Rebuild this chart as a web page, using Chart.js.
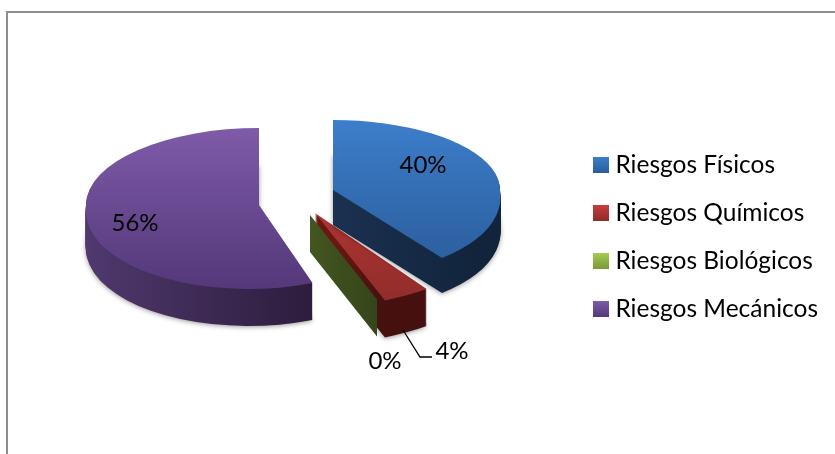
<!DOCTYPE html>
<html><head><meta charset="utf-8">
<style>html,body{margin:0;padding:0;background:#fff;overflow:hidden}canvas{display:block}</style>
<script src="https://cdn.jsdelivr.net/npm/chart.js@4"></script>
</head><body><canvas id="c" width="835" height="454"></canvas>
<script>
const categories = ['Riesgos Físicos','Riesgos Químicos','Riesgos Biológicos','Riesgos Mecánicos'];
const values = [40,4,0,56];
const topColors = ['#3d7ecb','#c93d39','#a4cc50','#7f5ba8'];
const bottomColors = ['#2a5d9c','#8f2c2a','#7a9a38','#54387a'];
const wallLeft = ['#1a3150','#6a1712','#435520','#50396f'];
const wallRight = ['#12243c','#45100d','#35451a','#2a1a38'];
const wallStops = [[.5,.9],[.55,.68],[0,1],[0,.75]];

// per-slice projection of the flat pie into its tilted, exploded 3D view
const views = [
 {vx:333,vy:190,sx:167,top:70,bot:84,shear:.16,depth:35},
 {vx:315,vy:213,sx:190,top:94,bot:94,shear:0,depth:37},
 {vx:310,vy:215,sx:182,top:91,bot:91,shear:0,depth:37},
 {vx:259,vy:205,sx:173,top:77,bot:84,shear:-.13,depth:37}
];
const labelNudges = [[90,-25],[137,138],[75,146],[-124,18]];
const drawOrder = [3,1,2,0];

const FONT = 'Lato, Carlito, sans-serif';
function swatch(i){
  const c=document.createElement('canvas');c.width=16;c.height=16;
  const x=c.getContext('2d');const g=x.createLinearGradient(0,0,0,16);
  g.addColorStop(0,topColors[i]);g.addColorStop(1,bottomColors[i]);
  x.fillStyle=g;x.fillRect(0,0,16,16);return c;
}
function drawSlice(ctx,el,v,dy,makeFill,shadow){
  const saved=el.options,R=el.outerRadius,px=el.x,py=el.y;
  [[0,v.top,0,v.vy+dy],[v.shear,v.bot,v.vy+dy,454]].forEach(([c,sy,y0,y1])=>{
    ctx.save();
    ctx.beginPath();ctx.rect(0,y0,835,y1-y0);ctx.clip();
    if(shadow){ctx.shadowColor='rgba(0,0,0,.4)';ctx.shadowBlur=5;ctx.shadowOffsetY=1;}
    const a=v.sx/R,dd=sy/R,cc=c*sy/R;
    ctx.setTransform(a,0,cc,dd,v.vx-a*px-cc*py,v.vy+dy-dd*py);
    el.options=Object.assign({},saved,{backgroundColor:makeFill(px,py,R),borderWidth:0});
    el.draw(ctx);
    ctx.restore();
  });
  el.options=saved;
}
const pie3d={
  id:'pie3d',
  beforeDraw(chart){
    const ctx=chart.ctx;ctx.save();
    ctx.fillStyle='#fff';ctx.fillRect(0,0,835,454);
    ctx.strokeStyle='#8e8e8e';ctx.lineWidth=2;
    ctx.beginPath();ctx.moveTo(7,454);ctx.lineTo(7,12);ctx.lineTo(835,12);ctx.stroke();
    ctx.restore();
  },
  beforeDatasetsDraw(chart){
    const ctx=chart.ctx,arcs=chart.getDatasetMeta(0).data;
    drawOrder.forEach(i=>{
      const el=arcs[i],v=views[i];
      const circ=el.endAngle-el.startAngle;
      if(circ<=0){
        // a zero share has no face: only its cut wall shows
        const a=el.startAngle,tx=v.vx+v.sx*Math.cos(a)+v.shear*v.bot*Math.sin(a),ty=v.vy+v.bot*Math.sin(a);
        ctx.save();
        const g=ctx.createLinearGradient(v.vx,0,tx,0);g.addColorStop(0,wallLeft[i]);g.addColorStop(1,wallRight[i]);
        ctx.fillStyle=g;ctx.beginPath();
        ctx.moveTo(v.vx,v.vy);ctx.lineTo(tx,ty);ctx.lineTo(tx,ty+v.depth);ctx.lineTo(v.vx,v.vy+v.depth);
        ctx.closePath();ctx.fill();ctx.restore();
        return;
      }
      const wall=(px,py,R)=>{const g=ctx.createLinearGradient(px-R,0,px+R,0);
        g.addColorStop(wallStops[i][0],wallLeft[i]);g.addColorStop(wallStops[i][1],wallRight[i]);return g;};
      for(let dy=v.depth;dy>=1;dy--) drawSlice(ctx,el,v,dy,wall,dy===v.depth);
      drawSlice(ctx,el,v,0,(px,py,R)=>{const g=ctx.createLinearGradient(0,py-R,0,py+R);
        g.addColorStop(0,topColors[i]);g.addColorStop(1,bottomColors[i]);return g;},false);
    });
    // value labels and the leader line of the small slice
    ctx.save();ctx.setTransform(1,0,0,1,0,0);
    ctx.fillStyle='#000';ctx.font='24px '+FONT;ctx.textAlign='center';ctx.textBaseline='middle';
    values.forEach((val,i)=>{ctx.fillText(val+'%',views[i].vx+labelNudges[i][0],views[i].vy+labelNudges[i][1]);});
    const r=views[1];
    ctx.strokeStyle='#000';ctx.lineWidth=1.3;ctx.beginPath();
    ctx.moveTo(r.vx+88,r.vy+117);ctx.lineTo(r.vx+105,r.vy+144);ctx.lineTo(r.vx+117,r.vy+144);ctx.stroke();
    ctx.restore();
    return false;
  }
};
new Chart(document.getElementById('c'),{
  type:'pie',
  data:{labels:categories,datasets:[{data:values,backgroundColor:topColors,borderWidth:0}]},
  options:{
    responsive:false,animation:false,radius:170,
    layout:{padding:{top:20,right:7,bottom:0,left:0}},
    plugins:{
      tooltip:{enabled:false},
      legend:{position:'right',align:'center',
        labels:{font:{family:FONT,size:24.5},color:'#000',padding:23.5,boxWidth:3.5,boxHeight:16,usePointStyle:true,
          generateLabels:()=>categories.map((t,i)=>({text:t,pointStyle:swatch(i),datasetIndex:0,index:i,hidden:false,lineWidth:0}))}}
    }
  },
  plugins:[pie3d]
});
</script></body></html>
